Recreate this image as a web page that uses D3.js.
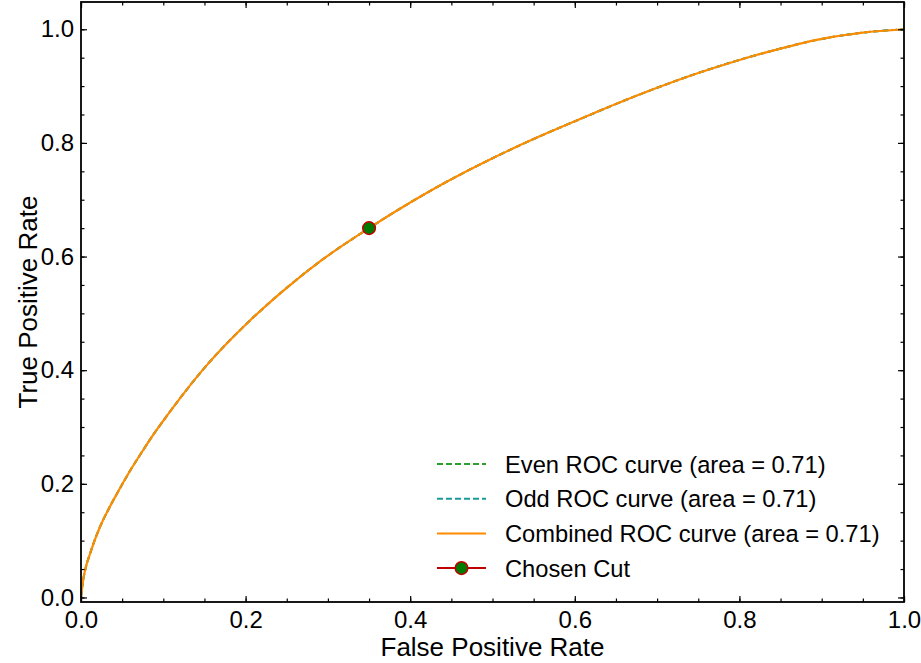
<!DOCTYPE html>
<html>
<head>
<meta charset="utf-8">
<script src="https://cdn.jsdelivr.net/npm/d3@7"></script>
<style>
  html, body { margin: 0; padding: 0; background: #fff; }
  svg text { font-family: "Liberation Sans", Arial, Helvetica, sans-serif; fill: #000; }
</style>
</head>
<body>
<svg id="chart" width="921" height="663"></svg>
<script>
// ROC curves: false positive rate vs true positive rate
const fpr = [0, 0.002, 0.005, 0.011, 0.023, 0.033, 0.045, 0.058, 0.074, 0.090, 0.100, 0.120, 0.150, 0.205, 0.250, 0.290, 0.350, 0.400, 0.436, 0.500, 0.558, 0.600, 0.661, 0.700, 0.750, 0.800, 0.850, 0.900, 0.950, 1.0];
const tprEven = [0, 0.025, 0.048, 0.077, 0.124, 0.154, 0.186, 0.219, 0.256, 0.291, 0.311, 0.350, 0.404, 0.487, 0.545, 0.591, 0.650, 0.695, 0.725, 0.773, 0.812, 0.838, 0.875, 0.897, 0.923, 0.946, 0.966, 0.983, 0.994, 1.0];
const tprOdd = [0, 0.025, 0.048, 0.077, 0.124, 0.154, 0.186, 0.219, 0.256, 0.291, 0.311, 0.350, 0.404, 0.487, 0.545, 0.591, 0.650, 0.695, 0.725, 0.773, 0.812, 0.838, 0.875, 0.897, 0.923, 0.946, 0.966, 0.983, 0.994, 1.0];
const tprCombined = [0, 0.025, 0.048, 0.077, 0.124, 0.154, 0.186, 0.219, 0.256, 0.291, 0.311, 0.350, 0.404, 0.487, 0.545, 0.591, 0.650, 0.695, 0.725, 0.773, 0.812, 0.838, 0.875, 0.897, 0.923, 0.946, 0.966, 0.983, 0.994, 1.0];
const cutPoint = { fpr: 0.35, tpr: 0.65 };
const areas = { even: 0.71, odd: 0.71, combined: 0.71 };
const xTicks = [0, 0.2, 0.4, 0.6, 0.8, 1.0];
const yTicks = [0, 0.2, 0.4, 0.6, 0.8, 1.0];
const minorTicks = d3.range(0, 1.0001, 0.05);

const svg = d3.select("#chart");
const plotLeft = 81, plotRight = 904, plotTop = 2, plotBottom = 602;

const x = d3.scaleLinear().domain([0, 1]).range([plotLeft, plotRight]);
const y = d3.scaleLinear().domain([-0.008, 1.048]).range([plotBottom, plotTop]);

const fmt = d3.format(".1f");

// Curves
const line = d3.line().x(d => x(d[0])).y(d => y(d[1])).curve(d3.curveMonotoneX);
const plot = svg.append("g");
plot.append("path").datum(d3.zip(fpr, tprEven))
  .attr("d", line).attr("fill", "none").attr("stroke", "#2ca02c")
  .attr("stroke-width", 2).attr("stroke-dasharray", "6,3");
plot.append("path").datum(d3.zip(fpr, tprOdd))
  .attr("d", line).attr("fill", "none").attr("stroke", "#1a9a9a")
  .attr("stroke-width", 2).attr("stroke-dasharray", "6,3");
plot.append("path").datum(d3.zip(fpr, tprCombined))
  .attr("d", line).attr("fill", "none").attr("stroke", "#ff8c00")
  .attr("stroke-width", 2.2);

// Chosen cut marker
plot.append("circle")
  .attr("cx", x(cutPoint.fpr)).attr("cy", y(cutPoint.tpr)).attr("r", 6.3)
  .attr("fill", "#007a00").attr("stroke", "#c00000").attr("stroke-width", 1.5);

// Axes with inward ticks on all four sides
const axBottom = svg.append("g").attr("transform", `translate(0,${plotBottom})`)
  .call(d3.axisBottom(x).tickValues(xTicks).tickFormat(fmt).tickSizeInner(-6).tickSizeOuter(0).tickPadding(9));
const axBottomMinor = svg.append("g").attr("transform", `translate(0,${plotBottom})`)
  .call(d3.axisBottom(x).tickValues(minorTicks).tickFormat("").tickSizeInner(-3.5).tickSizeOuter(0));
const axTop = svg.append("g").attr("transform", `translate(0,${plotTop})`)
  .call(d3.axisTop(x).tickValues(xTicks).tickFormat("").tickSizeInner(-6).tickSizeOuter(0));
const axTopMinor = svg.append("g").attr("transform", `translate(0,${plotTop})`)
  .call(d3.axisTop(x).tickValues(minorTicks).tickFormat("").tickSizeInner(-3.5).tickSizeOuter(0));
const axLeft = svg.append("g").attr("transform", `translate(${plotLeft},0)`)
  .call(d3.axisLeft(y).tickValues(yTicks).tickFormat(fmt).tickSizeInner(-6).tickSizeOuter(0).tickPadding(7));
const axLeftMinor = svg.append("g").attr("transform", `translate(${plotLeft},0)`)
  .call(d3.axisLeft(y).tickValues(minorTicks).tickFormat("").tickSizeInner(-3.5).tickSizeOuter(0));
const axRight = svg.append("g").attr("transform", `translate(${plotRight},0)`)
  .call(d3.axisRight(y).tickValues(yTicks).tickFormat("").tickSizeInner(-6).tickSizeOuter(0));
const axRightMinor = svg.append("g").attr("transform", `translate(${plotRight},0)`)
  .call(d3.axisRight(y).tickValues(minorTicks).tickFormat("").tickSizeInner(-3.5).tickSizeOuter(0));

[axBottom, axBottomMinor, axTop, axTopMinor, axLeft, axLeftMinor, axRight, axRightMinor].forEach(g => {
  g.select(".domain").remove();
  g.selectAll(".tick line").attr("stroke", "#000").attr("stroke-width", 1.2);
  g.selectAll(".tick text").attr("font-size", 24).attr("font-family", "Liberation Sans, Arial, sans-serif").attr("fill", "#000");
});

// Frame
svg.append("rect").attr("x", plotLeft).attr("y", plotTop)
  .attr("width", plotRight - plotLeft).attr("height", plotBottom - plotTop)
  .attr("fill", "none").attr("stroke", "#000").attr("stroke-width", 1.8);

// Axis titles
svg.append("text").attr("x", (plotLeft + plotRight) / 2).attr("y", 656)
  .attr("text-anchor", "middle").attr("font-size", 26).text("False Positive Rate");
svg.append("text").attr("transform", `translate(37,${(plotTop + plotBottom) / 2}) rotate(-90)`)
  .attr("text-anchor", "middle").attr("font-size", 26).text("True Positive Rate");

// Legend
const legendItems = [
  { label: `Even ROC curve (area = ${areas.even.toFixed(2)})`, color: "#2ca02c", dash: "6,3", marker: false },
  { label: `Odd ROC curve (area = ${areas.odd.toFixed(2)})`, color: "#1a9a9a", dash: "6,3", marker: false },
  { label: `Combined ROC curve (area = ${areas.combined.toFixed(2)})`, color: "#ff8c00", dash: null, marker: false },
  { label: "Chosen Cut", color: "#c00000", dash: null, marker: true }
];
const legend = svg.append("g").attr("transform", "translate(437,464)");
legendItems.forEach((it, i) => {
  const row = legend.append("g").attr("transform", `translate(0,${i * 34.7})`);
  row.append("line").attr("x1", 0).attr("x2", 49).attr("y1", 0).attr("y2", 0)
    .attr("stroke", it.color).attr("stroke-width", 2)
    .attr("stroke-dasharray", it.dash);
  if (it.marker) {
    row.append("circle").attr("cx", 24.5).attr("cy", 0).attr("r", 6.3)
      .attr("fill", "#007a00").attr("stroke", "#c00000").attr("stroke-width", 1.5);
  }
  row.append("text").attr("x", 68).attr("y", 8.5).attr("font-size", 23.7).text(it.label);
});
</script>
</body>
</html>
